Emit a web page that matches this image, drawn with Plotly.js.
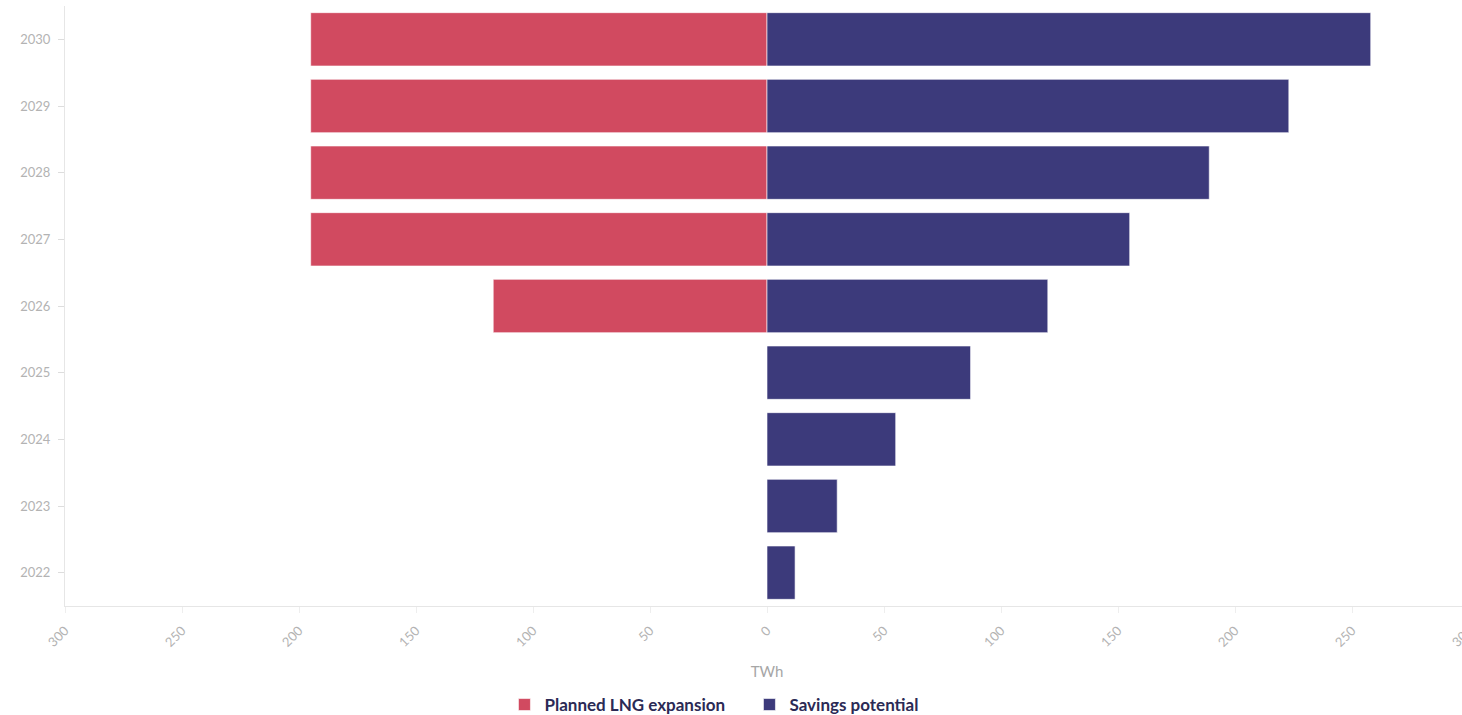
<!DOCTYPE html>
<html>
<head>
<meta charset="utf-8">
<script src="https://cdn.plot.ly/plotly-3.0.1.min.js"></script>
<style>
html,body{margin:0;padding:0;overflow:hidden;background:#fff;}
#chart{width:1480px;height:715px;}
</style>
</head>
<body>
<div id="chart"></div>
<script>
const years = ["2022","2023","2024","2025","2026","2027","2028","2029","2030"];
const lngExpansion = [0, 0, 0, 0, -117, -195, -195, -195, -195];
const savingsPotential = [12, 30, 55, 87, 120, 155, 189, 223, 258];
const xTickVals = [-300, -250, -200, -150, -100, -50, 0, 50, 100, 150, 200, 250, 300];
const xTickText = ["300", "250", "200", "150", "100", "50", "0", "50", "100", "150", "200", "250", "300"];

const traces = [
  {
    type: "bar", orientation: "h", name: "Planned LNG expansion",
    y: years, x: lngExpansion,
    marker: {color: "#d14a60", line: {color: "#ffffff", width: 0.6}},
    hoverinfo: "skip"
  },
  {
    type: "bar", orientation: "h", name: "Savings potential",
    y: years, x: savingsPotential,
    marker: {color: "#3c3a7b", line: {color: "#ffffff", width: 0.6}},
    hoverinfo: "skip"
  }
];

const layout = {
  width: 1480, height: 715,
  margin: {l: 65, r: 11, t: 6, b: 109},
  paper_bgcolor: "#ffffff", plot_bgcolor: "#ffffff",
  barmode: "relative", bargap: 0.2,
  font: {family: "Lato, 'Open Sans', sans-serif", color: "#aaaaaa"},
  xaxis: {
    range: [-300, 300], automargin: false,
    tickvals: xTickVals, ticktext: xTickText,
    tickangle: -45, ticklabelstandoff: 5,
    tickfont: {size: 13, color: "#b3b3b3"},
    showgrid: false, zeroline: false,
    showline: true, linecolor: "#e6e6e6", linewidth: 1,
    ticks: "outside", ticklen: 6, tickcolor: "#eeeeee",
    title: {text: "TWh", font: {size: 15, color: "#a6a6a6"}, standoff: 17}
  },
  yaxis: {
    type: "category", automargin: false,
    tickfont: {size: 13, color: "#b3b3b3"},
    ticklabelstandoff: 5,
    showgrid: false, zeroline: false,
    showline: true, linecolor: "#e6e6e6", linewidth: 1,
    ticks: "outside", ticklen: 6, tickcolor: "#dddddd"
  },
  showlegend: true,
  legend: {
    orientation: "h", xref: "paper", x: 0.313, xanchor: "left",
    yref: "container", y: 0.014, yanchor: "middle",
    font: {size: 17, color: "#2b2a55", family: "Lato, 'Open Sans', sans-serif", weight: "bold"},
    itemwidth: 30, traceorder: "normal", entrywidth: 200
  }
};

Plotly.newPlot("chart", traces, layout, {displayModeBar: false, staticPlot: true});
</script>
</body>
</html>
